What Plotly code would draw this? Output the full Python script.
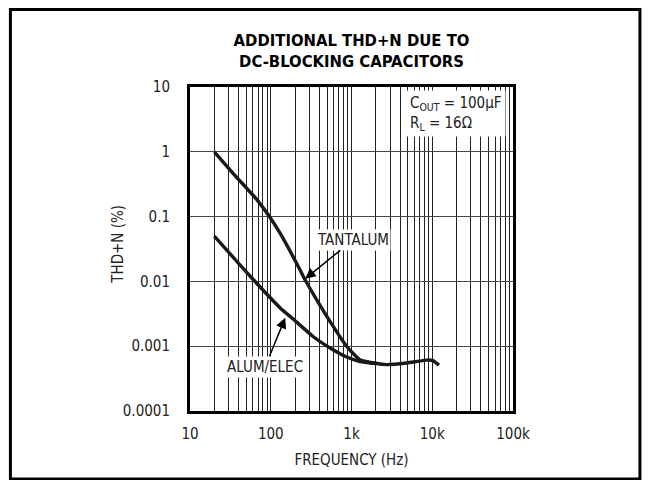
import plotly.graph_objects as go

# THD+N (%)
tant_freq = [20, 35, 68, 94, 131, 231, 267, 371, 596, 873, 1270, 2050, 2720, 4800, 8470, 10200, 12100]
tant_thdn = [1.0, 0.45, 0.18, 0.105, 0.055, 0.015, 0.0105, 0.0052, 0.0020, 0.00099,
             0.00062, 0.00054, 0.00052, 0.00055, 0.00061, 0.00060, 0.00051]

alum_freq = [20, 56, 131, 191, 337, 543, 873, 1270, 2050]
alum_thdn = [0.05, 0.0119, 0.0039, 0.0026, 0.0014, 0.00094, 0.00068, 0.00058, 0.00054]

x_tickvals = [10, 100, 1000, 10000, 100000]
x_ticktext = ["10", "100", "1k", "10k", "100k"]
y_tickvals = [10, 1, 0.1, 0.01, 0.001, 0.0001]
y_ticktext = ["10", "1", "0.1", "0.01", "0.001", "0.0001"]

FONT = "DejaVu Sans Condensed, Liberation Sans Narrow, sans-serif"
TXT = dict(size=15, color="#222", family=FONT)

fig = go.Figure()
fig.add_trace(go.Scatter(x=tant_freq, y=tant_thdn, mode="lines", name="TANTALUM",
                         line=dict(color="#1a1a1a", width=3.4, shape="spline", smoothing=0.5)))
fig.add_trace(go.Scatter(x=alum_freq, y=alum_thdn, mode="lines", name="ALUM/ELEC",
                         line=dict(color="#1a1a1a", width=3.4, shape="spline", smoothing=0.5)))

fig.update_xaxes(type="log", range=[1, 5], tickvals=x_tickvals, ticktext=x_ticktext,
                 showline=True, mirror=True, linewidth=3, linecolor="black",
                 showgrid=True, gridcolor="#222", gridwidth=1,
                 minor=dict(showgrid=True, dtick="D1", gridcolor="#222", gridwidth=1),
                 ticks="", ticklabelstandoff=7, zeroline=False,
                 tickfont=TXT,
                 title=dict(text="FREQUENCY (Hz)", font=TXT, standoff=13))
fig.update_yaxes(type="log", range=[-4, 1], tickvals=y_tickvals, ticktext=y_ticktext,
                 showline=True, mirror=True, linewidth=3, linecolor="black",
                 showgrid=True, gridcolor="#444", gridwidth=1.3,
                 ticks="", ticklabelstandoff=14, zeroline=False,
                 tickfont=TXT)

# y title sits between the tick labels, as in the original
fig.add_annotation(xref="paper", yref="paper", x=-0.222, y=0.514, xanchor="center",
                   yanchor="middle", text="THD+N (%)", textangle=-90, showarrow=False, font=TXT)

# outer frame
fig.add_shape(type="rect", xref="paper", yref="paper",
              x0=-0.556, x1=1.393, y0=-0.21, y1=1.239,
              line=dict(color="black", width=3))

fig.add_annotation(xref="paper", yref="paper", x=0.668, y=0.99, xanchor="left", yanchor="top",
                   text="C<sub>OUT</sub> = 100\u00b5F<br>R<sub>L</sub> = 16\u03a9", align="left",
                   showarrow=False, bgcolor="white", borderpad=3, font=TXT)
fig.add_annotation(x=2.426, y=-1.96, text="TANTALUM", showarrow=True,
                   ax=48, ay=-39, arrowhead=2, arrowsize=1.4, arrowwidth=1.5, arrowcolor="black",
                   bgcolor="white", font=TXT)
fig.add_annotation(x=2.179, y=-2.562, text="ALUM/ELEC", showarrow=True,
                   ax=-20, ay=49, arrowhead=2, arrowsize=1.4, arrowwidth=1.5, arrowcolor="black",
                   bgcolor="white", font=TXT)

# the page body keeps an 8px margin, so the figure is sized to fit inside it
fig.update_layout(
    width=634, height=472,
    margin=dict(l=182, r=129, t=79, b=69),
    paper_bgcolor="white", plot_bgcolor="white",
    showlegend=False,
    font=dict(family=FONT),
    title=dict(text="<b>ADDITIONAL THD+N DUE TO<br>DC-BLOCKING CAPACITORS</b>",
               xref="paper", x=0.5, xanchor="center",
               yref="container", y=0.92, yanchor="middle",
               font=dict(size=16.5, color="black", family=FONT)),
)

fig.write_html("out.html")
